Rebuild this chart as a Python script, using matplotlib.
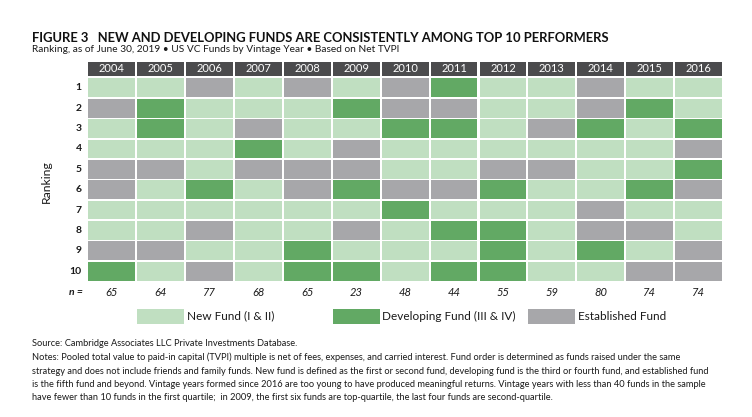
import matplotlib
matplotlib.use("Agg")
import matplotlib.pyplot as plt
from matplotlib.patches import Rectangle
from matplotlib import font_manager as fm

names = {f.name for f in fm.fontManager.ttflist}
FONT = "Lato" if "Lato" in names else "DejaVu Sans"
plt.rcParams["font.family"] = [FONT, "DejaVu Sans"]

years = ["2004", "2005", "2006", "2007", "2008", "2009", "2010",
         "2011", "2012", "2013", "2014", "2015", "2016"]
ranks = ["1", "2", "3", "4", "5", "6", "7", "8", "9", "10"]
n_funds = [65, 64, 77, 68, 65, 23, 48, 44, 55, 59, 80, 74, 74]
# N = New Fund (I & II), D = Developing Fund (III & IV), E = Established Fund
grid = [
    "NNENENEDNNENN",
    "EDNNNDEENNEDN",
    "NDNENNDDNEDND",
    "NNNDNENNNNNNE",
    "EENEEENNEENND",
    "ENDNEDEEDNNDE",
    "NNNNNNDNNNENN",
    "NNENNENDDNEEN",
    "EENNDNNNDNDNE",
    "DNENDDNDDNNEE",
]
categories = ["N", "D", "E"]
legend_labels = ["New Fund (I & II)", "Developing Fund (III & IV)", "Established Fund"]
colors = {"N": "#c0dfc1", "D": "#62a964", "E": "#a7a7aa"}
header_color = "#4b4b4d"
text_color = "#1a1a1a"

title = "FIGURE 3   NEW AND DEVELOPING FUNDS ARE CONSISTENTLY AMONG TOP 10 PERFORMERS"
subtitle = "Ranking, as of June 30, 2019 \u2022 US VC Funds by Vintage Year \u2022 Based on Net TVPI"
notes = [
    "Source: Cambridge Associates LLC Private Investments Database.",
    "Notes: Pooled total value to paid-in capital (TVPI) multiple is net of fees, expenses, and carried interest. Fund order is determined as funds raised under the same",
    "strategy and does not include friends and family funds. New fund is defined as the first or second fund, developing fund is the third or fourth fund, and established fund",
    "is the fifth fund and beyond. Vintage years formed since 2016 are too young to have produced meaningful returns. Vintage years with less than 40 funds in the sample",
    "have fewer than 10 funds in the first quartile;  in 2009, the first six funds are top-quartile, the last four funds are second-quartile.",
]

W, H = 752, 417
fig = plt.figure(figsize=(W / 100, H / 100), dpi=100)
renderer = fig.canvas.get_renderer()


def width_px(t):
    return t.get_window_extent(renderer=renderer).width


def fit(t, target):
    t.set_fontsize(t.get_fontsize() * target / width_px(t))
    return t.get_fontsize()


# grid axes (pixel extents)
left_px, right_px, top_px, bot_px = 87.3, 723.0, 61.7, 281.4
ax = fig.add_axes([left_px / W, (H - bot_px) / H, (right_px - left_px) / W, (bot_px - top_px) / H])
ax.set_xlim(-0.5, len(years) - 0.5)
ax.set_ylim(len(ranks) - 0.5, -1.28)
ax.axis("off")

gx, gy = 0.042, 0.075
year_texts = []
for j, yr in enumerate(years):
    ax.add_patch(Rectangle((j - 0.5 + gx / 2, -1.28), 1 - gx, 0.685,
                           facecolor=header_color, edgecolor="none"))
    year_texts.append(ax.text(j, -1.28 + 0.685 / 2, yr, ha="center", va="center",
                              color="white", fontsize=9))
    for i in range(len(ranks)):
        c = grid[i][j]
        ax.add_patch(Rectangle((j - 0.5 + gx / 2, i - 0.5 + gy / 2), 1 - gx, 1 - gy,
                               facecolor=colors[c], edgecolor="none"))

fs = fit(year_texts[0], 26)
for t in year_texts:
    t.set_fontsize(fs)

rank_texts = []
for i, r in enumerate(ranks):
    rank_texts.append(ax.text(-0.61, i, r, ha="right", va="center", fontsize=9,
                              fontweight="bold", color=text_color, clip_on=False))
fs = fit(rank_texts[-1], 12)
for t in rank_texts:
    t.set_fontsize(fs)

for j in range(len(years)):
    ax.text(j, 10.06, str(n_funds[j]), ha="center", va="center", fontsize=fs * 1.08,
            style="italic", color=text_color, clip_on=False)
ax.text(-0.59, 10.06, "n =", ha="right", va="center", fontsize=fs, fontweight="bold",
        style="italic", color=text_color, clip_on=False)
rk = ax.text(-1.33, 4.6, "Ranking", ha="center", va="center", fontsize=9,
             color=text_color, clip_on=False)
fit(rk, 43)
rk.set_rotation(90)

# legend axes
lg_left, lg_slot = 137.0, 195.5
lax = fig.add_axes([lg_left / W, (H - 323.5) / H, 3 * lg_slot / W, 15 / H])
lax.set_xlim(0, 3)
lax.set_ylim(0, 1)
lax.axis("off")
sw = 47 / lg_slot
leg_texts = []
for k, (cat, lab) in enumerate(zip(categories, legend_labels)):
    lax.add_patch(Rectangle((k, 0), sw, 1, facecolor=colors[cat], edgecolor="none"))
    leg_texts.append(lax.text(k + sw + 3 / lg_slot, 0.5, lab, ha="left", va="center",
                              fontsize=10, color=text_color))
fs = fit(leg_texts[1], 133)
for t in leg_texts:
    t.set_fontsize(fs)

tt = fig.text(32 / W, 1 - 38 / H, title, ha="left", va="center", fontsize=10,
              fontweight="bold", color="#111111")
fit(tt, 580)
st = fig.text(32 / W, 1 - 50 / H, subtitle, ha="left", va="center", fontsize=8,
              color=text_color)
fit(st, 369)

note_y = [343, 357, 371, 384.5, 398]
note_texts = []
for t, yy in zip(notes, note_y):
    note_texts.append(fig.text(32 / W, 1 - yy / H, t, ha="left", va="center", fontsize=7.0,
                               color=text_color))
fs = fit(note_texts[2], 684)
for t in note_texts:
    t.set_fontsize(fs)

fig.savefig("out.png", dpi=100)
